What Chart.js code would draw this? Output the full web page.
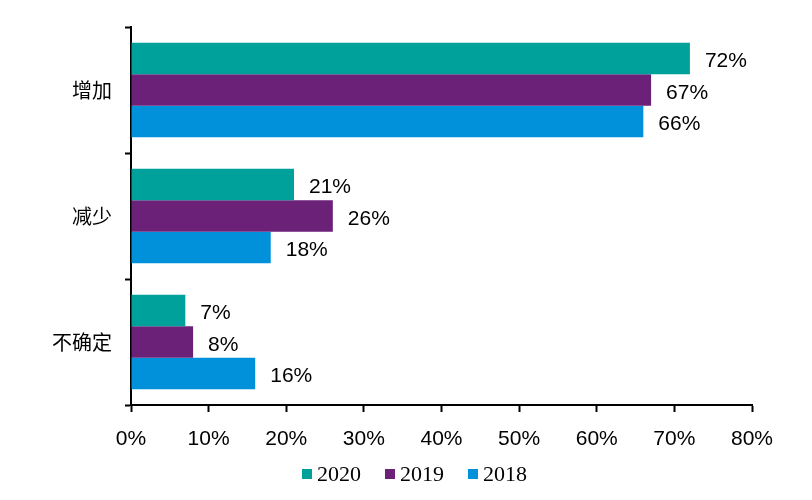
<!DOCTYPE html>
<html>
<head>
<meta charset="utf-8">
<script src="https://cdn.jsdelivr.net/npm/chart.js@4/dist/chart.umd.min.js"></script>
<style>
  html, body { margin: 0; padding: 0; background: #fff; }
  #wrap { position: relative; width: 812px; height: 500px; }
  #legend { position: absolute; left: 302px; top: 463px; display: flex; gap: 24px;
            font-family: "Liberation Serif", "Times New Roman", serif; font-size: 22px; line-height: 22px; color: #000; }
  .item { display: flex; align-items: center; }
  .box { width: 10px; height: 10px; margin-right: 5px; }
</style>
</head>
<body>
<div id="wrap">
  <canvas id="c" width="812" height="500"></canvas>
  <div id="legend"></div>
</div>
<script>
const categories = ["增加", "减少", "不确定"];
const seriesNames = ["2020", "2019", "2018"];
const values2020 = [72, 21, 7];
const values2019 = [67, 26, 8];
const values2018 = [66, 18, 16];
const seriesColors = ["#00A19A", "#6B2177", "#0091DA"];
const xTicks = [0, 10, 20, 30, 40, 50, 60, 70, 80];

const valueLabels = {
  id: "valueLabels",
  afterDatasetsDraw(chart) {
    const ctx = chart.ctx;
    ctx.save();
    ctx.font = "21px 'Liberation Sans', Arial, sans-serif";
    ctx.fillStyle = "#000";
    ctx.textAlign = "left";
    ctx.textBaseline = "middle";
    chart.data.datasets.forEach((ds, i) => {
      const meta = chart.getDatasetMeta(i);
      meta.data.forEach((el, j) => {
        ctx.fillText(ds.data[j] + "%", el.x + 15, el.y + 3);
      });
    });
    ctx.restore();
  }
};

const chart = new Chart(document.getElementById("c"), {
  type: "bar",
  data: {
    labels: categories,
    datasets: [
      { label: seriesNames[0], data: values2020, backgroundColor: seriesColors[0] },
      { label: seriesNames[1], data: values2019, backgroundColor: seriesColors[1] },
      { label: seriesNames[2], data: values2018, backgroundColor: seriesColors[2] }
    ]
  },
  options: {
    indexAxis: "y",
    responsive: false,
    animation: false,
    devicePixelRatio: 1,
    layout: { padding: { left: 0, top: 27, right: 60, bottom: 45 } },
    datasets: { bar: { barPercentage: 1, categoryPercentage: 0.75 } },
    plugins: { legend: { display: false }, tooltip: { enabled: false } },
    scales: {
      x: {
        min: 0, max: 80,
        afterFit(s) { s.height = 50; },
        afterBuildTicks(s) { s.ticks = xTicks.map(v => ({ value: v })); },
        grid: { drawOnChartArea: false, tickLength: 7, tickWidth: 2, tickColor: "#000" },
        border: { color: "#000", width: 2 },
        ticks: {
          padding: 15,
          color: "#000",
          font: { family: "'Liberation Sans', Arial, sans-serif", size: 21 },
          callback: v => v + "%"
        }
      },
      y: {
        offset: true,
        afterFit(s) { s.width = 131; },
        grid: { offset: true, drawOnChartArea: false, tickLength: 6, tickWidth: 2, tickColor: "#000" },
        border: { color: "#000", width: 2 },
        ticks: {
          padding: 13,
          color: "#000",
          font: { family: "'Noto Sans CJK SC', sans-serif", size: 20 }
        }
      }
    }
  },
  plugins: [valueLabels]
});

const legend = document.getElementById("legend");
chart.data.datasets.forEach(ds => {
  const item = document.createElement("div");
  item.className = "item";
  const box = document.createElement("span");
  box.className = "box";
  box.style.background = ds.backgroundColor;
  const txt = document.createElement("span");
  txt.textContent = ds.label;
  item.appendChild(box);
  item.appendChild(txt);
  legend.appendChild(item);
});
</script>
</body>
</html>
